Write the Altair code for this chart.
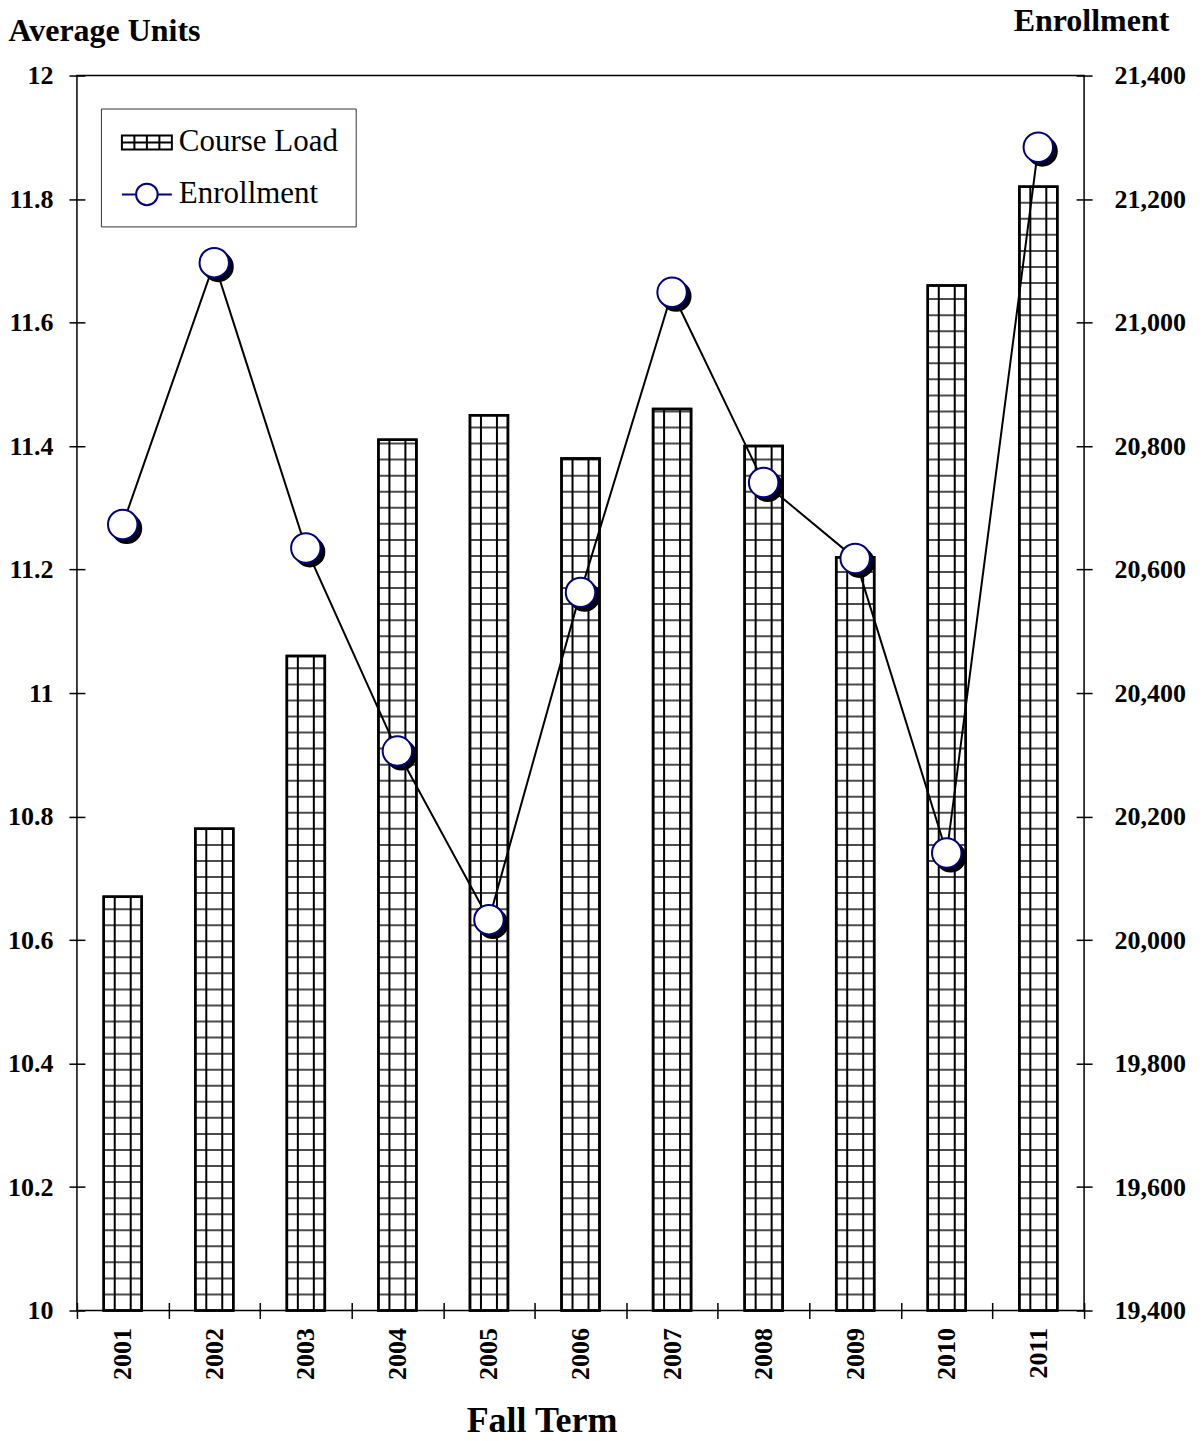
import altair as alt
import pandas as pd

# ---- data ----
YEARS = ["2001", "2002", "2003", "2004", "2005", "2006", "2007", "2008", "2009", "2010", "2011"]
COURSE_LOAD = [10.67, 10.78, 11.06, 11.41, 11.45, 11.38, 11.46, 11.40, 11.22, 11.66, 11.82]
ENROLLMENT = [20673, 21097, 20635, 20306, 20033, 20563, 21049, 20741, 20618, 20141, 21284]
SERIES = ["Course Load", "Enrollment"]
LEFT_TICKS = [10, 10.2, 10.4, 10.6, 10.8, 11, 11.2, 11.4, 11.6, 11.8, 12]
RIGHT_TICKS = [19400, 19600, 19800, 20000, 20200, 20400, 20600, 20800, 21000, 21200, 21400]

df = pd.DataFrame({"year": YEARS, "load": COURSE_LOAD, "enroll": ENROLLMENT})
legend_df = pd.DataFrame({"series": SERIES})

# ---- styles ----
FONT = "Liberation Serif"
BAR_W = 38
PATTERN_STEP = 0.026      # spacing of the hatch grid in axis units (~16px)
INNER_OFF = 8
MARK_SIZE = 870
NAVY = "#000080"

GRID_PATH = ("M-1.6,-0.45H1.6V0.45H-1.6Z M-1.6,0H1.6 M-0.8,-0.45V0.45 "
             "M0,-0.45V0.45 M0.8,-0.45V0.45")
LINE_CIRCLE_PATH = ("M-1.6,0H-0.69 M0.69,0H1.6 M-0.69,0A0.69,0.69 0 1,1 0.69,0"
                    "A0.69,0.69 0 1,1 -0.69,0Z")

x_axis = alt.Axis(
    title="Fall Term", labelAngle=-90, labelFont=FONT, labelFontSize=26,
    labelFontWeight="bold", labelColor="black", labelPadding=9,
    tickBand="extent", tickSize=16, offset=-8, domain=False,
    tickColor="black", tickWidth=1.5,
    titleFont=FONT, titleFontSize=36, titleFontWeight="bold", titleColor="black",
    titleX=465, titleY=129, titleAlign="center", titleBaseline="alphabetic",
)
x_enc = alt.X("year:O", scale=alt.Scale(paddingInner=0, paddingOuter=0), axis=x_axis)

left_axis = alt.Axis(
    title="Average Units", values=LEFT_TICKS, format="~g",
    labelFont=FONT, labelFontSize=26, labelFontWeight="bold", labelColor="black",
    labelPadding=16, tickSize=16, offset=-8, domain=False,
    tickColor="black", tickWidth=1.5,
    titleFont=FONT, titleFontSize=32, titleFontWeight="bold", titleColor="black",
    titleAngle=0, titleX=-77, titleY=-35, titleAlign="left", titleBaseline="alphabetic",
)
right_axis = alt.Axis(
    title="Enrollment", orient="right", values=RIGHT_TICKS, format=",d",
    labelFont=FONT, labelFontSize=26, labelFontWeight="bold", labelColor="black",
    labelPadding=22, tickSize=16, offset=-8, domain=False,
    tickColor="black", tickWidth=1.5,
    titleFont=FONT, titleFontSize=32, titleFontWeight="bold", titleColor="black",
    titleAngle=0, titleX=-63, titleY=-45, titleAlign="left", titleBaseline="alphabetic",
)

left_scale = alt.Scale(domain=[10, 12], zero=False, nice=False)
right_scale = alt.Scale(domain=[19400, 21400], zero=False, nice=False)

base = alt.Chart(df)

bars = base.mark_bar(size=BAR_W, fill="white", stroke="black", strokeWidth=2.5).encode(
    x=x_enc,
    y=alt.Y("load:Q", scale=left_scale, axis=left_axis),
    y2=alt.Y2(datum=10),
)

hlines = base.transform_calculate(
    levels=f"sequence(10 + {PATTERN_STEP}, datum.load, {PATTERN_STEP})"
).transform_flatten(["levels"]).mark_tick(
    size=BAR_W, thickness=2, color="black"
).encode(
    x=x_enc,
    y=alt.Y("levels:Q", scale=left_scale, axis=left_axis),
)

vline_l = base.mark_rule(xOffset=-INNER_OFF, color="black", strokeWidth=2).encode(
    x=x_enc,
    y=alt.Y("load:Q", scale=left_scale, axis=left_axis),
    y2=alt.Y2(datum=10),
)
vline_r = base.mark_rule(xOffset=INNER_OFF, color="black", strokeWidth=2).encode(
    x=x_enc,
    y=alt.Y("load:Q", scale=left_scale, axis=left_axis),
    y2=alt.Y2(datum=10),
)

outline = base.mark_bar(size=BAR_W, fill="transparent", stroke="black", strokeWidth=2.5).encode(
    x=x_enc,
    y=alt.Y("load:Q", scale=left_scale, axis=left_axis),
    y2=alt.Y2(datum=10),
)

left = alt.layer(bars, hlines, vline_l, vline_r, outline)

line = base.mark_line(color="black", strokeWidth=2).encode(
    x=x_enc,
    y=alt.Y("enroll:Q", scale=right_scale, axis=right_axis),
)
shadow = base.mark_point(
    shape="circle", filled=True, fill="black", stroke="black", strokeWidth=1.5,
    size=MARK_SIZE, xOffset=4, yOffset=4, opacity=1,
).encode(
    x=x_enc,
    y=alt.Y("enroll:Q", scale=right_scale, axis=right_axis),
)
circles = base.mark_point(
    shape="circle", filled=True, fill="white", stroke=NAVY, strokeWidth=2,
    size=MARK_SIZE, opacity=1,
).encode(
    x=x_enc,
    y=alt.Y("enroll:Q", scale=right_scale, axis=right_axis),
)

legend_spec = alt.Legend(
    title=None, orient="none", legendX=24, legendY=33,
    fillColor="white", strokeColor="#333333", padding=17,
    labelFont=FONT, labelFontSize=31, labelColor="black", labelOffset=15,
    symbolOffset=12, symbolSize=977, symbolStrokeWidth=2, symbolFillColor="white",
    symbolOpacity=1, rowPadding=20,
)
legend_layer = alt.Chart(legend_df).mark_point(filled=False, opacity=0).encode(
    shape=alt.Shape("series:N", scale=alt.Scale(domain=SERIES, range=[GRID_PATH, LINE_CIRCLE_PATH]),
                    legend=legend_spec),
    stroke=alt.Stroke("series:N", scale=alt.Scale(domain=SERIES, range=["black", NAVY]),
                      legend=legend_spec),
)

right = alt.layer(line, shadow, circles, legend_layer)

chart = alt.layer(left, right).resolve_scale(y="independent").properties(
    width=1008, height=1236,
    autosize=alt.AutoSizeParams(type="none"),
    padding={"left": 69, "top": 67, "right": 110, "bottom": 133},
    background="white",
).configure_view(stroke="black", strokeWidth=1.5).configure_axis(grid=False)

chart.save("out.html", embed_options={"renderer": "svg", "actions": False})
